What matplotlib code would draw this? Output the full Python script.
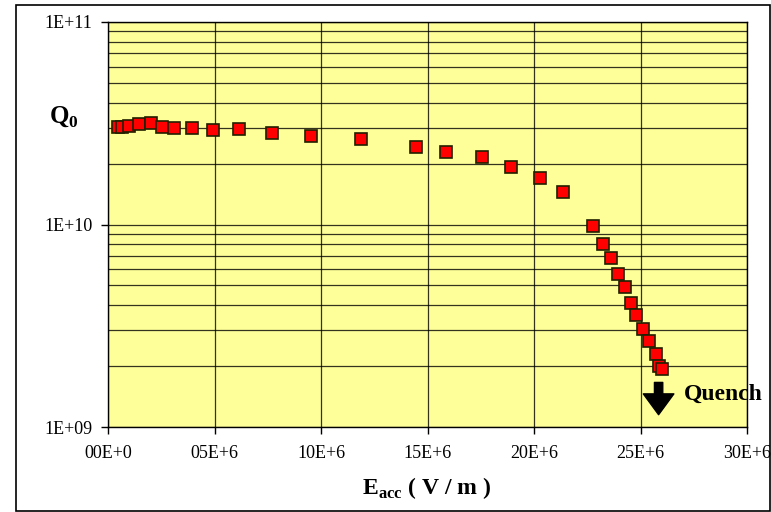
import numpy as np
import matplotlib
matplotlib.use('Agg')
import matplotlib.pyplot as plt
from matplotlib.ticker import FixedLocator, LogLocator, NullFormatter
from matplotlib.patches import Rectangle

# dane: Eacc [V/m], Q0
eacc = np.array([0.48, 0.64, 1.00, 1.44, 2.02, 2.54, 3.12, 3.94, 4.94, 6.15, 7.69,
                 9.55, 11.89, 14.48, 15.88, 17.54, 18.90, 20.30, 21.38, 22.75, 23.26,
                 23.60, 23.94, 24.27, 24.57, 24.81, 25.14, 25.39, 25.72, 25.87, 26.03]) * 1e6
q0 = np.array([3.04, 3.04, 3.06, 3.14, 3.18, 3.02, 3.00, 3.00, 2.93, 2.95, 2.84,
               2.75, 2.64, 2.41, 2.27, 2.15, 1.93, 1.70, 1.44, 0.983, 0.804,
               0.686, 0.571, 0.493, 0.409, 0.356, 0.304, 0.265, 0.229, 0.200, 0.193]) * 1e10

xticks = [0, 5e6, 10e6, 15e6, 20e6, 25e6, 30e6]
xlabels = ['00E+0', '05E+6', '10E+6', '15E+6', '20E+6', '25E+6', '30E+6']
yticks = [1e9, 1e10, 1e11]
ylabels = ['1E+09', '1E+10', '1E+11']

plt.rcParams['font.family'] = ['Liberation Serif', 'DejaVu Serif']
plt.rcParams['mathtext.fontset'] = 'custom'
plt.rcParams['mathtext.rm'] = 'Liberation Serif'
plt.rcParams['mathtext.bf'] = 'Liberation Serif:bold'

fig = plt.figure(figsize=(7.71, 5.12), dpi=100)
fig.patches.append(Rectangle((16 / 771, 1 - 511 / 512), 754 / 771, 506 / 512,
                             transform=fig.transFigure, fill=False,
                             edgecolor='black', linewidth=1.2))
ax = fig.add_axes([108 / 771, 1 - 427 / 512, 639 / 771, 405 / 512])
ax.set_facecolor('#ffff99')

ax.set_yscale('log')
ax.set_xlim(0, 30e6)
ax.set_ylim(1e9, 1e11)

ax.yaxis.set_major_locator(FixedLocator(yticks))
ax.set_yticklabels(ylabels)
ax.yaxis.set_minor_locator(LogLocator(base=10, subs=np.arange(2, 10)))
ax.yaxis.set_minor_formatter(NullFormatter())
ax.set_xticks(xticks)
ax.set_xticklabels(xlabels)

ax.grid(True, which='major', axis='both', color='black', linewidth=0.9, alpha=0.8)
ax.grid(True, which='minor', axis='y', color='black', linewidth=0.9, alpha=0.8)
ax.tick_params(which='major', direction='out', length=5, width=1, labelsize=13, pad=8)
ax.tick_params(axis='y', pad=6)
ax.tick_params(which='minor', length=0)
for s in ax.spines.values():
    s.set_linewidth(1)
    s.set_color('black')

ax.plot(eacc, q0, 's', color='red', markeredgecolor='#202000', markersize=9,
        markeredgewidth=1.2, zorder=3)

ax.annotate('', xy=(25.85e6, 1.15e9), xytext=(25.85e6, 1.66e9),
            arrowprops=dict(width=6, headwidth=22, headlength=15, color='black'))
ax.text(27.05e6, 1.45e9, 'Quench', fontsize=17, fontweight='bold', va='center',
        ha='left', clip_on=False)

fig.text(64 / 771, 1 - 117 / 512, r'Q$_\mathbf{0}$', fontsize=18, fontweight='bold',
         ha='center', va='center')
fig.text(427 / 771, 1 - 488 / 512, r'E$_\mathbf{acc}$ ( V / m )', fontsize=17,
         fontweight='bold', ha='center', va='center')

fig.savefig('out.png', dpi=100)
